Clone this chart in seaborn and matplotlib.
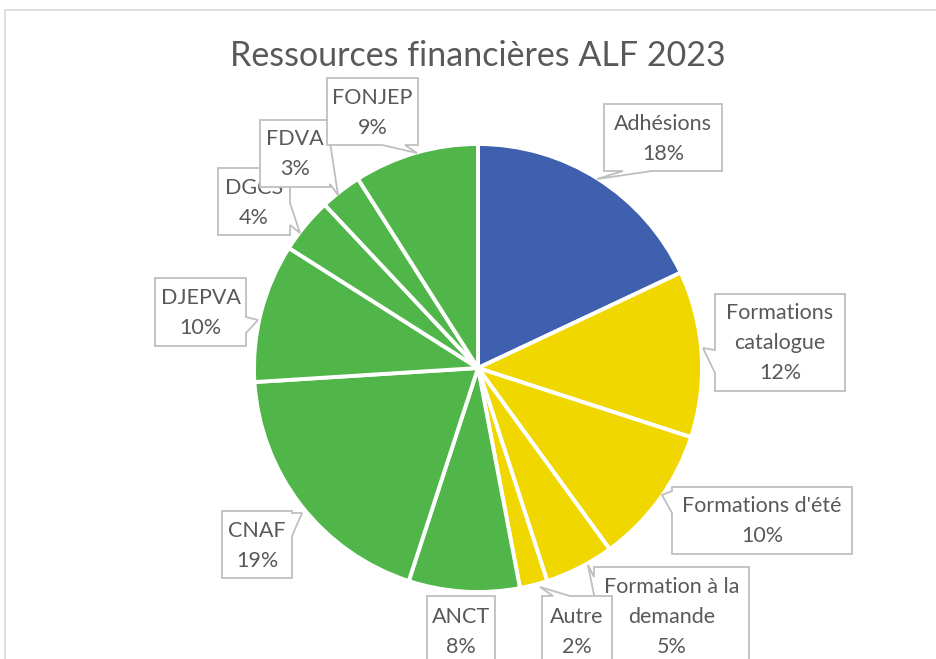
import matplotlib
matplotlib.use("Agg")
import matplotlib.pyplot as plt
from matplotlib.patches import Polygon, Rectangle
import seaborn as sns

# ---- data ----
categories = ["Adhésions", "Formations\ncatalogue", "Formations d'été",
              "Formation à la\ndemande", "Autre", "ANCT", "CNAF", "DJEPVA",
              "DGCS", "FDVA", "FONJEP"]
values = [18, 12, 10, 5, 2, 8, 19, 10, 4, 3, 9]
groups = ["blue", "yellow", "yellow", "yellow", "yellow", "green", "green",
          "green", "green", "green", "green"]
title = "Ressources financières ALF 2023"

# ---- style ----
sns.set_style("white")
plt.rcParams['font.family'] = ['Lato', 'DejaVu Sans']
group_colors = {"blue": "#3F60AE", "yellow": "#F1D700", "green": "#50B649"}
text_color = "#595959"
edge_gray = "#BFBFBF"

W, H = 937, 659
fig = plt.figure(figsize=(W / 100, H / 100), dpi=100)
ax = fig.add_axes([0, 0, 1, 1])

def P(x, y):
    return (x, H - y)

colors = [group_colors[g] for g in groups]
ax.pie(values, colors=colors, startangle=90, counterclock=False,
       center=P(478, 368), radius=224,
       wedgeprops=dict(edgecolor="white", linewidth=2.8))

ax.set_xlim(0, W)
ax.set_ylim(0, H)
ax.set_aspect("equal")
ax.axis("off")

# chart frame
ax.add_patch(Rectangle(P(5, 700), 960, 690, facecolor="none",
                       edgecolor="#D9D9D9", lw=1.2, zorder=0))

ax.text(*P(478, 56), title, ha="center", va="center", fontsize=24.5,
        color=text_color)

total = sum(values)
# layout of callouts: box (x0, y0, x1, y1), text center y, pointer (side, b1, b2, tip)
layout = [
    ((604, 104, 722, 171), 139, ("bottom", 623, 652, (597, 179))),
    ((715, 294, 845, 391), 343, ("left", 350, 373, (703, 348))),
    ((672, 487, 852, 554), 521, ("left", 491, 513, (662, 495))),
    ((594, 567, 749, 700), 617, ("left", 577, 595, (588, 565))),
    ((542, 596, 612, 700), 632, ("top", 553, 570, (540, 587))),
    ((427, 596, 495, 700), 632, None),
    ((222, 511, 292, 578), 546, ("right", 513, 536, (302, 513))),
    ((155, 278, 246, 346), 313, ("right", 317, 333, (258, 320))),
    ((218, 168, 290, 235), 203, ("right", 203, 225, (300, 233))),
    ((260, 120, 330, 187), 154, ("right", 142, 184, (338, 195))),
    ((327, 78, 418, 145), 113, ("bottom", 382, 405, (417, 153))),
]

for i, (cat, v, (box, ty, ptr)) in enumerate(zip(categories, values, layout)):
    x0, y0, x1, y1 = box
    corners = [(x0, y0), (x1, y0), (x1, y1), (x0, y1)]
    if ptr is None:
        pts = corners
    else:
        side, b1, b2, tip = ptr
        if side == "top":
            pts = [(x0, y0), (b1, y0), tip, (b2, y0), (x1, y0), (x1, y1), (x0, y1)]
        elif side == "right":
            pts = [(x0, y0), (x1, y0), (x1, b1), tip, (x1, b2), (x1, y1), (x0, y1)]
        elif side == "bottom":
            pts = [(x0, y0), (x1, y0), (x1, y1), (b2, y1), tip, (b1, y1), (x0, y1)]
        else:  # left
            pts = [(x0, y0), (x1, y0), (x1, y1), (x0, y1), (x0, b2), tip, (x0, b1)]
    z = 10 + 2 * i
    ax.add_patch(Polygon([P(*p) for p in pts], closed=True, facecolor="white",
                         edgecolor=edge_gray, lw=1.3, zorder=z))
    label = f"{cat}\n{round(v / total * 100)}%"
    ax.text(*P((x0 + x1) / 2, ty), label, ha="center", va="center",
            fontsize=15.5, color=text_color, linespacing=1.6, zorder=z + 1)

fig.savefig("out.png", dpi=100)
